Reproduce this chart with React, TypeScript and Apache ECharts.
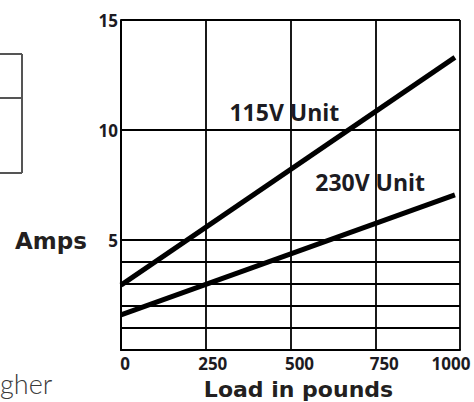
import React, { useEffect, useRef } from "react";
import * as echarts from "echarts";

const xTicks = [0, 250, 500, 750, 1000];
const yLabelValues = [5, 10, 15];
const gridLineValues = [1, 2, 3, 4, 5, 10, 15];
const seriesNames = ["115V Unit", "230V Unit"];
const loads = [0, 985];
const amps115 = [2.95, 13.3];
const amps230 = [1.6, 7.05];
const labelPos115 = [482, 10.8];
const labelPos230 = [735, 7.64];

const FONT = "'Open Sans', 'DejaVu Sans', sans-serif";
const TITLE_FONT = "'DejaVu Sans', 'Open Sans', sans-serif";
const INK = "#1c1b22";
const TICK_SIZE = 17;

export default function App() {
  const ref = useRef<HTMLDivElement>(null);
  useEffect(() => {
    const chart = echarts.init(ref.current!, null, { renderer: "svg" });
    const splitColors: string[] = [];
    for (let v = 0; v <= 15; v++) {
      splitColors.push(gridLineValues.includes(v) ? "#000" : "rgba(0,0,0,0)");
    }
    const shift: Record<number, string> = { 0: "s0", 250: "s1", 500: "s2", 750: "s3", 1000: "s4" };
    const tickStyle = (padding: number[]) => ({
      fontFamily: FONT,
      fontWeight: "bold",
      fontSize: TICK_SIZE,
      color: INK,
      padding,
    });
    const mkSeries = (name: string, ys: number[], pos: number[]) => ({
      name,
      type: "line",
      data: loads.map((x, i) => [x, ys[i]]),
      symbol: "none",
      lineStyle: { color: "#000", width: 5 },
      silent: true,
      markPoint: {
        symbol: "circle",
        symbolSize: 0,
        data: [
          {
            coord: pos,
            label: {
              show: true,
              position: "inside",
              formatter: name,
              fontFamily: FONT,
              fontWeight: "bold",
              fontSize: 23,
              color: INK,
            },
          },
        ],
      },
    });
    chart.setOption({
      animation: false,
      backgroundColor: "#fff",
      grid: {
        left: 121,
        right: 14,
        top: 20,
        bottom: 52,
        containLabel: false,
        outerBoundsMode: "none",
      },
      xAxis: {
        type: "value",
        min: 0,
        max: 1000,
        interval: 250,
        axisLine: { show: true, lineStyle: { color: "#000", width: 2 } },
        axisTick: { show: false },
        splitLine: { show: true, lineStyle: { color: "#000", width: 1.8 } },
        axisLabel: {
          margin: 5,
          fontFamily: FONT,
          fontWeight: "bold",
          fontSize: TICK_SIZE,
          color: INK,
          showMaxLabel: true,
          showMinLabel: true,
          hideOverlap: false,
          formatter: (v: number) => (xTicks.includes(v) ? `{${shift[v]}|${v}}` : ""),
          rich: {
            s0: tickStyle([0, 0, 0, 8]),
            s1: tickStyle([0, 0, 0, 14]),
            s2: tickStyle([0, 0, 0, 18]),
            s3: tickStyle([0, 0, 0, 18]),
            s4: tickStyle([0, 18, 0, 0]),
          },
        },
        name: "Load in pounds",
        nameLocation: "middle",
        nameGap: 28,
        nameTextStyle: {
          fontFamily: TITLE_FONT,
          fontWeight: "bold",
          fontSize: 22,
          color: "#231f20",
          padding: [0, 0, 0, 16],
        },
      },
      yAxis: {
        type: "value",
        min: 0,
        max: 15,
        interval: 1,
        axisLine: { show: true, lineStyle: { color: "#000", width: 2 } },
        axisTick: { show: false },
        splitLine: { show: true, lineStyle: { color: splitColors, width: 1.8 } },
        axisLabel: {
          margin: 3,
          fontFamily: FONT,
          fontWeight: "bold",
          fontSize: TICK_SIZE,
          color: INK,
          formatter: (v: number) => (yLabelValues.includes(v) ? String(v) : ""),
        },
      },
      series: [mkSeries(seriesNames[0], amps115, labelPos115), mkSeries(seriesNames[1], amps230, labelPos230)],
      graphic: [
        {
          type: "text",
          left: 15,
          top: 229,
          style: { text: "Amps", fontFamily: TITLE_FONT, fontWeight: "bold", fontSize: 23, fill: "#231f20" },
        },
        {
          type: "text",
          left: 0,
          top: 370,
          style: { text: "gher", fontFamily: "Lato, 'Open Sans', sans-serif", fontWeight: 300, fontSize: 27, fill: "#3a3a3a" },
        },
        { type: "line", shape: { x1: 0, y1: 54, x2: 22, y2: 54 }, style: { stroke: "#555", lineWidth: 2 } },
        { type: "line", shape: { x1: 0, y1: 98, x2: 22, y2: 98 }, style: { stroke: "#555", lineWidth: 2 } },
        { type: "line", shape: { x1: 0, y1: 173, x2: 22, y2: 173 }, style: { stroke: "#555", lineWidth: 2 } },
        { type: "line", shape: { x1: 22, y1: 54, x2: 22, y2: 173 }, style: { stroke: "#555", lineWidth: 2 } },
      ],
    });
    return () => chart.dispose();
  }, []);
  return (
    <div
      ref={ref}
      style={{ position: "fixed", left: 0, top: 0, width: 474, height: 402, background: "#fff" }}
    />
  );
}
